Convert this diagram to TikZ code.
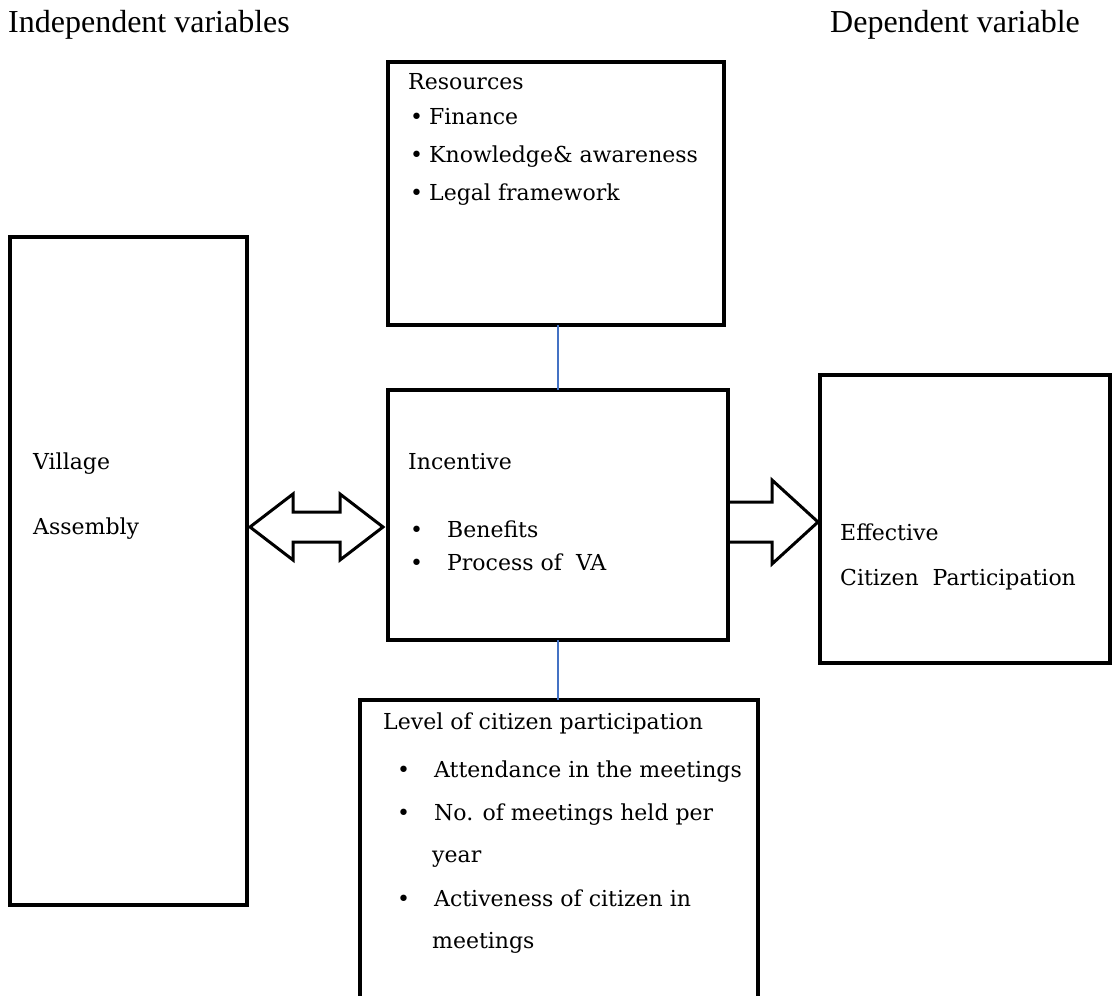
\documentclass[tikz,border=0pt]{standalone}
\usepackage{fontspec}
\setmainfont{DejaVu Serif}
\newfontfamily\headfont{Liberation Serif}
\definecolor{linkblue}{RGB}{68,114,196}
\begin{document}
\begin{tikzpicture}[x=1pt,y=-1pt,
  box/.style={draw,line width=4.5pt,rectangle,inner sep=0pt,outer sep=0pt},
  txt/.style={anchor=base west,inner sep=0pt,font=\fontsize{22}{26}\selectfont},
  head/.style={anchor=base west,inner sep=0pt,font=\headfont\fontsize{32}{38}\selectfont},
  link/.style={draw=linkblue,line width=1.5pt},
  block/.style={draw,line width=3pt,line join=miter,fill=white}]
\useasboundingbox (0,0) rectangle (1114,996);
\clip (0,0) rectangle (1114,996);
% headings
\node[head] (hi) at (8,32) {Independent variables};
\node[head] (hd) at (830,32) {Dependent variable};
% boxes
\node[box,minimum width=237pt,minimum height=668pt] (vil) at (128.5,571) {};
\node[box,minimum width=336pt,minimum height=263pt] (res) at (556,193.5) {};
\node[box,minimum width=340pt,minimum height=250pt] (inc) at (558,515) {};
\node[box,minimum width=398pt,minimum height=320pt] (lev) at (559,860) {};
\node[box,minimum width=290pt,minimum height=288pt] (eff) at (965,519) {};
% connectors
\draw[link] (inc.north |- res.south) -- (inc.north);
\draw[link] (inc.south) -- (inc.south |- lev.north);
% double arrow between village assembly and incentive
\coordinate (da1) at (250,527);
\coordinate (da2) at (383,527);
\draw[block] (da1) -- ++(43,-33) -- ++(0,18) -- ++(47,0) -- ++(0,-18) -- (da2)
  -- ++(-43,33) -- ++(0,-18) -- ++(-47,0) -- ++(0,18) -- cycle;
% arrow incentive -> effective
\coordinate (ra) at (inc.east |- 0,522);
\coordinate (rb) at (818,522);
\draw[block,fill=none] (ra) ++(0,-20) -- ++(44,0) -- ++(0,-22) -- (rb) -- ++(-46,42) -- ++(0,-22) -- ++(-44,0);
% texts
\node[txt] (t1) at (408,89) {Resources};
\node[txt] (t2) at (410,124) {\textbullet\hspace{6pt}Finance};
\node[txt] (t3) at (410,162) {\textbullet\hspace{6pt}Knowledge\& awareness};
\node[txt] (t4) at (410,200) {\textbullet\hspace{6pt}Legal framework};
\node[txt] (t5) at (408,469) {Incentive};
\node[txt] (t6) at (410,537) {\textbullet\hspace{24pt}Benefits};
\node[txt] (t7) at (410,570) {\textbullet\hspace{24pt}Process of \ VA};
\node[txt] (t8) at (383,729) {Level of citizen participation};
\node[txt] (t9) at (397,777) {\textbullet\hspace{24pt}Attendance in the meetings};
\node[txt] (t10) at (397,820) {\textbullet\hspace{24pt}No. of meetings held per};
\node[txt] (t11) at (432,862) {year};
\node[txt] (t12) at (397,906) {\textbullet\hspace{24pt}Activeness of citizen in};
\node[txt] (t13) at (432,948) {meetings};
\node[txt] (t14) at (33,469) {Village};
\node[txt] (t15) at (33,534) {Assembly};
\node[txt] (t16) at (840,540) {Effective};
\node[txt] (t17) at (840,585) {Citizen \ Participation};
\end{tikzpicture}
\end{document}
